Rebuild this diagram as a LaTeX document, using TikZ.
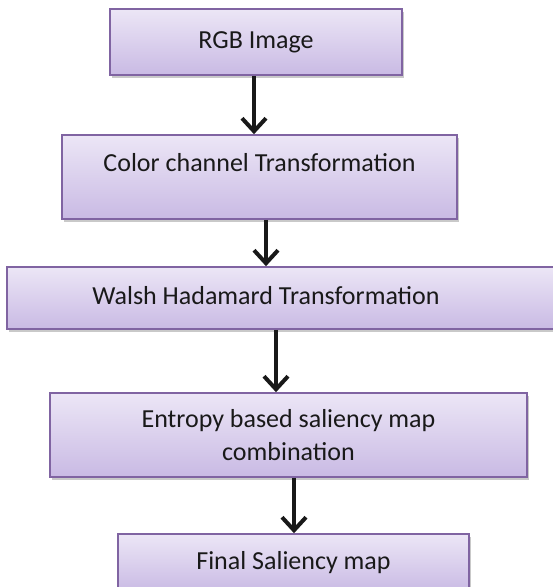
\documentclass[tikz,border=0pt]{standalone}
\usepackage{fontspec}
\setmainfont{Carlito}
\usetikzlibrary{arrows.meta,shadows}
\definecolor{boxtop}{RGB}{236,230,246}
\definecolor{boxbottom}{RGB}{201,186,228}
\definecolor{boxline}{RGB}{128,100,162}
\tikzset{
  flowbox/.style={rectangle, draw=boxline, line width=1.6pt,
    top color=boxtop, bottom color=boxbottom,
    inner sep=0pt, align=center, text=black!90,
    font=\fontsize{26}{33}\selectfont,
    drop shadow={shadow xshift=1.5pt, shadow yshift=-3pt, opacity=0.35, fill=black!60}},
  boxlabel/.style={inner sep=0pt, align=center, text=black!90,
    font=\fontsize{26}{33}\selectfont},
  flowarrow/.style={line width=4.5pt, black!90,
    -{Straight Barb[length=13pt,width=24pt,line width=4pt]}}
}
\begin{document}
\begin{tikzpicture}[x=1pt,y=-1pt]
  \useasboundingbox (0,0) rectangle (553,587);
  \clip (0,0) rectangle (553,587);
  \fill[white] (0,0) rectangle (553,587);

  % process boxes
  \node[flowbox, minimum width=292pt, minimum height=66pt] (b1) at (256,42) {RGB Image};
  \node[flowbox, minimum width=395pt, minimum height=84pt] (b2) at (259.5,177) {};
  \node[boxlabel] (t2) at (259.5,163) {Color channel Transformation};
  \node[flowbox, minimum width=555pt, minimum height=62pt] (b3) at (284.5,298) {};
  \node[boxlabel] (t3) at (266,296) {Walsh Hadamard Transformation};
  \node[flowbox, minimum width=477pt, minimum height=84pt] (b4) at (288.5,435)
    {Entropy based saliency map\\combination};
  \node[flowbox, minimum width=351pt, minimum height=58pt] (b5) at (293.5,563) {Final Saliency map};

  % connectors
  \draw[flowarrow] ([xshift=-2pt]b1.south) -- ([xshift=-5.5pt]b2.north);
  \draw[flowarrow] ([xshift=6.5pt]b2.south) -- ([xshift=-18.5pt]b3.north);
  \draw[flowarrow] ([xshift=-8.5pt]b3.south) -- ([xshift=-12.5pt]b4.north);
  \draw[flowarrow] ([xshift=5.5pt]b4.south) -- ([xshift=0.5pt]b5.north);
\end{tikzpicture}
\end{document}
